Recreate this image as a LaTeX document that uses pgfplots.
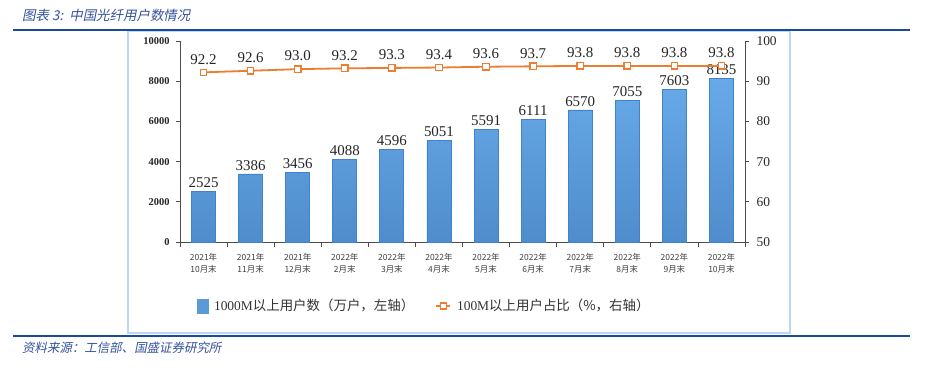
\documentclass[border=0pt]{standalone}
\usepackage{fontspec}
\usepackage{pgfplots}
\pgfplotsset{compat=1.18}
\setmainfont{Liberation Serif}
\newfontfamily\cjk{Noto Sans CJK SC}
\newfontfamily\cjkit{Noto Sans CJK SC}[FakeSlant=0.2]
\definecolor{bartop}{HTML}{68AAE8}
\definecolor{barbot}{HTML}{4F8CCB}
\definecolor{barborder}{HTML}{3F83D0}
\definecolor{barblue}{HTML}{5B9BD5}
\definecolor{lineorange}{HTML}{ED7D31}
\definecolor{ruleblue}{HTML}{1A4A9C}
\definecolor{titleblue}{HTML}{34529C}
\definecolor{framecol}{HTML}{BDD7EE}
\begin{document}
\begin{tikzpicture}
\useasboundingbox (0,0) rectangle (938bp,378bp);
\fill[white] (0,0) rectangle (938bp,378bp);
\node[anchor=west, font=\cjkit\fontsize{13.5}{15}\selectfont, text=titleblue, inner sep=0] at (22bp,363bp) {图表 3:\ \ 中国光纤用户数情况};
\draw[framecol, line width=1.5bp] (128bp,45bp) rectangle (790bp,347bp);
\draw[ruleblue, line width=2bp] (13bp,348bp) -- (910bp,348bp);
\draw[ruleblue, line width=2bp] (13bp,42bp) -- (910bp,42bp);
\node[anchor=west, font=\cjkit\fontsize{12.5}{14}\selectfont, text=titleblue, inner sep=0] at (22bp,30bp) {资料来源：工信部、国盛证券研究所};

\begin{axis}[
  at={(180bp,136bp)}, anchor=south west, scale only axis,
  width=565bp, height=201bp,
  xmin=-0.5, xmax=11.5, ymin=0, ymax=10000,
  axis x line*=bottom, axis y line*=left,
  axis line style={black!70, line width=0.8bp},
  every tick/.style={black!70, line width=0.8bp},
  tick align=outside,
  major tick length=4bp, minor tick length=5bp,
  ytick={0,2000,...,10000},
  scaled y ticks=false,
  /pgf/number format/1000 sep={},
  /pgf/number format/assume math mode=true,
  y tick label style={font=\bfseries\fontsize{10.5}{12}\selectfont, text=black!85, xshift=-3bp},
  xtick={0,...,11},
  major x tick style={draw=none},
  minor xtick={-0.5,0.5,1.5,2.5,3.5,4.5,5.5,6.5,7.5,8.5,9.5,10.5,11.5},
  xticklabels={{2021年\\10月末},{2021年\\11月末},{2021年\\12月末},{2022年\\2月末},{2022年\\3月末},{2022年\\4月末},{2022年\\5月末},{2022年\\6月末},{2022年\\7月末},{2022年\\8月末},{2022年\\9月末},{2022年\\10月末}},
  x tick label style={font=\cjk\fontsize{8.5}{12}\selectfont, align=center, text=black!75, yshift=-4bp},
  clip=false,
]
\addplot[ybar, bar width=24bp, draw=barborder, line width=0.8bp, top color=bartop, bottom color=barbot,
  nodes near coords, nodes near coords style={font=\fontsize{15}{15}\selectfont, text=black!85}]
  coordinates {(0,2525) (1,3386) (2,3456) (3,4088) (4,4596) (5,5051) (6,5591) (7,6111) (8,6570) (9,7055) (10,7603) (11,8135)};
\end{axis}

\begin{axis}[
  at={(180bp,136bp)}, anchor=south west, scale only axis,
  width=565bp, height=201bp,
  xmin=-0.5, xmax=11.5, ymin=50, ymax=100,
  axis y line*=right, axis x line=none,
  axis line style={black!70, line width=0.8bp},
  every tick/.style={black!70, line width=0.8bp},
  tick align=outside, major tick length=4bp,
  ytick={50,60,...,100},
  /pgf/number format/assume math mode=true,
  y tick label style={font=\fontsize{13.5}{15}\selectfont, text=black!85, xshift=4bp},
  clip=false,
  legend style={at={(0.432,-0.318)}, anchor=center, draw=none, fill=none,
    legend columns=2, font=\fontsize{13.5}{15}\selectfont, text=black!80,
    /tikz/every even column/.append style={column sep=19bp},
    /tikz/every odd column/.append style={column sep=4bp}},
]
\addlegendimage{legend image code/.code={\fill[barblue] (0bp,-7bp) rectangle (11bp,7bp);}}
\addlegendentry{1000M{\cjk 以上用户数（万户，左轴）}}
\addplot[lineorange, line width=1.8bp, mark=square*, mark size=3.2bp,
  mark options={fill=white, draw=lineorange, line width=1.3bp, solid},
  point meta=explicit symbolic,
  nodes near coords, nodes near coords style={font=\fontsize{15}{15}\selectfont, text=black!85, yshift=4bp},
  legend image code/.code={\draw[lineorange, line width=1.8bp] (0bp,0bp) -- (14bp,0bp); \draw[lineorange, line width=1.3bp, fill=white] (4bp,-3bp) rectangle (10bp,3bp);}]
  coordinates {(0,92.2)[92.2] (1,92.6)[92.6] (2,93.0)[93.0] (3,93.2)[93.2] (4,93.3)[93.3] (5,93.4)[93.4] (6,93.6)[93.6] (7,93.7)[93.7] (8,93.8)[93.8] (9,93.8)[93.8] (10,93.8)[93.8] (11,93.8)[93.8]};
\addlegendentry{100M{\cjk 以上用户占比（\%，右轴）}}
\end{axis}
\end{tikzpicture}
\end{document}
